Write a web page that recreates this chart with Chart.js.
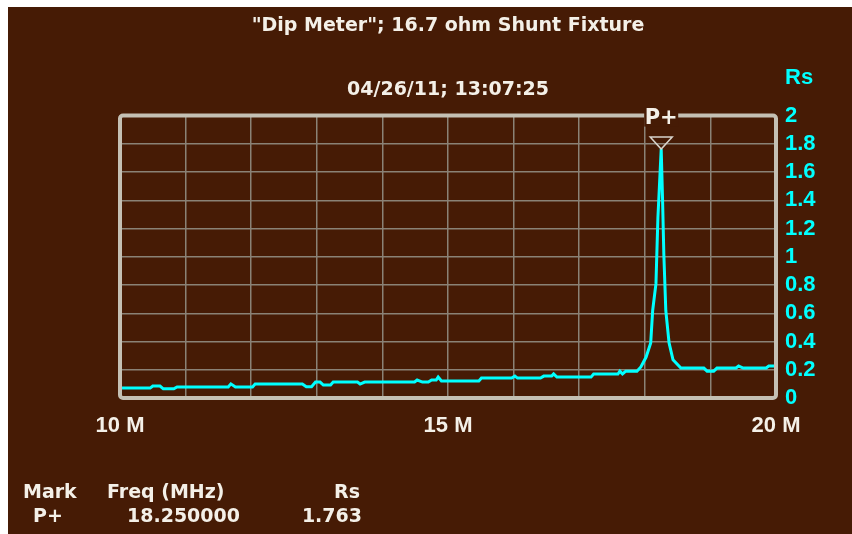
<!DOCTYPE html>
<html>
<head>
<meta charset="utf-8">
<script src="https://cdn.jsdelivr.net/npm/chart.js@4/dist/chart.umd.min.js"></script>
<style>
  html, body { margin: 0; padding: 0; background: #fff; }
  #wrap { position: absolute; left: 8px; top: 7px; width: 844px; height: 527px; }
</style>
</head>
<body>
<div id="wrap"><canvas id="chart" width="844" height="527"></canvas></div>
<script>
// Sweep data
const freqMHz = [
  10.00, 10.46, 10.50, 10.61, 10.66, 10.82, 10.87, 11.65, 11.69, 11.76,
  12.02, 12.06, 12.78, 12.84, 12.92, 12.98, 13.05, 13.10, 13.21, 13.25,
  13.62, 13.66, 13.73, 14.49, 14.53, 14.61, 14.70, 14.75, 14.82, 14.85,
  14.90, 15.47, 15.51, 15.97, 16.02, 16.06, 16.41, 16.46, 16.58, 16.61,
  16.66, 17.18, 17.22, 17.59, 17.62, 17.66, 17.71, 17.88, 17.94, 18.02,
  18.09, 18.12, 18.17, 18.20, 18.25, 18.27, 18.29, 18.32, 18.37, 18.43,
  18.55, 18.90, 18.95, 19.05, 19.10, 19.39, 19.43, 19.50, 19.85, 19.89,
  20.00
];
const rsValues = [
  0.070, 0.070, 0.085, 0.085, 0.065, 0.065, 0.078, 0.078, 0.100, 0.078,
  0.078, 0.099, 0.099, 0.080, 0.080, 0.113, 0.113, 0.092, 0.092, 0.113,
  0.113, 0.099, 0.113, 0.113, 0.127, 0.113, 0.113, 0.127, 0.127, 0.148,
  0.120, 0.120, 0.141, 0.141, 0.155, 0.141, 0.141, 0.155, 0.155, 0.170,
  0.148, 0.148, 0.170, 0.170, 0.190, 0.170, 0.190, 0.190, 0.220, 0.290,
  0.390, 0.620, 0.810, 1.280, 1.763, 1.420, 1.020, 0.620, 0.390, 0.270,
  0.212, 0.212, 0.190, 0.190, 0.212, 0.212, 0.226, 0.212, 0.212, 0.226,
  0.226
];
const xTickLabels = { 10: '10 M', 15: '15 M', 20: '20 M' };

const markerLabel = 'P+';
const markerFreq = 18.25;
const markerRs = 1.763;

const titleText = '"Dip Meter"; 16.7 ohm Shunt Fixture';
const subtitleText = '04/26/11; 13:07:25';

const BG = '#461b05';
const FRAME = '#c4c0b4';
const GRID = '#8a8276';
const TRACE = '#00ffff';
const TEXT = '#f4f0e8';
const wideFont = '"DejaVu Sans", sans-serif';
const tickFont = '"Liberation Sans", Arial, sans-serif';

const points = freqMHz.map((f, i) => ({ x: f, y: rsValues[i] }));

// background, frame, marker, footer table
const screenPlugin = {
  id: 'screen',
  beforeDraw(chart) {
    const ctx = chart.ctx;
    ctx.save();
    ctx.fillStyle = BG;
    ctx.fillRect(0, 0, chart.width, chart.height);
    ctx.restore();
  },
  afterDatasetsDraw(chart) {
    const ctx = chart.ctx;
    const a = chart.chartArea;
    const xs = chart.scales.x, ys = chart.scales.y;
    ctx.save();
    // frame
    ctx.strokeStyle = FRAME;
    ctx.lineWidth = 4;
    ctx.beginPath();
    ctx.roundRect(a.left, a.top, a.right - a.left, a.bottom - a.top, 3);
    ctx.stroke();

    // marker
    const mx = xs.getPixelForValue(markerFreq);
    const my = ys.getPixelForValue(markerRs);
    ctx.fillStyle = BG;
    ctx.fillRect(mx - 17, a.top - 5, 34, 16);
    ctx.fillStyle = TEXT;
    ctx.font = 'bold 21px ' + wideFont;
    ctx.textAlign = 'center';
    ctx.textBaseline = 'middle';
    ctx.fillText(markerLabel, mx, a.top + 3);
    ctx.strokeStyle = '#d8d4cc';
    ctx.lineWidth = 1.5;
    ctx.beginPath();
    ctx.moveTo(mx - 11, my - 12);
    ctx.lineTo(mx + 11, my - 12);
    ctx.lineTo(mx, my);
    ctx.closePath();
    ctx.stroke();

    // axis unit
    ctx.fillStyle = TRACE;
    ctx.font = 'bold 22px ' + tickFont;
    ctx.textAlign = 'left';
    ctx.fillText('Rs', a.right + 9, 71);

    // footer table
    ctx.fillStyle = TEXT;
    ctx.font = 'bold 19px ' + wideFont;
    ctx.textAlign = 'left';
    ctx.fillText('Mark', 15, 486);
    ctx.fillText('Freq (MHz)', 99, 486);
    ctx.textAlign = 'right';
    ctx.fillText('Rs', 352, 486);
    ctx.textAlign = 'center';
    ctx.fillText(markerLabel, 40, 510);
    ctx.textAlign = 'right';
    ctx.fillText(markerFreq.toFixed(6), 232, 510);
    ctx.fillText(markerRs.toFixed(3), 354, 510);
    ctx.restore();
  }
};

new Chart(document.getElementById('chart'), {
  type: 'line',
  data: {
    datasets: [{
      data: points,
      borderColor: TRACE,
      borderWidth: 3,
      pointRadius: 0,
      tension: 0,
      fill: false
    }]
  },
  options: {
    responsive: false,
    animation: false,
    layout: { padding: { left: 112, right: 0, top: 0, bottom: 0 } },
    plugins: {
      legend: { display: false },
      tooltip: { enabled: false },
      title: {
        display: true,
        text: titleText,
        fullSize: false,
        color: TEXT,
        font: { family: wideFont, size: 19, weight: 'bold' },
        padding: { top: 8, bottom: 0 }
      },
      subtitle: {
        display: true,
        text: subtitleText,
        fullSize: false,
        color: TEXT,
        font: { family: wideFont, size: 19, weight: 'bold' },
        padding: { top: 41, bottom: 14 }
      }
    },
    scales: {
      x: {
        type: 'linear',
        min: 10,
        max: 20,
        afterFit(scale) { scale.height = 136; },
        border: { display: false },
        grid: { color: GRID, lineWidth: 1.5, drawTicks: false },
        ticks: {
          stepSize: 1,
          autoSkip: false,
          maxRotation: 0,
          padding: 15,
          color: TEXT,
          font: { family: tickFont, size: 22, weight: 'bold' },
          callback: v => xTickLabels[v] || ''
        }
      },
      y: {
        position: 'right',
        min: 0,
        max: 2,
        afterFit(scale) { scale.width = 76; },
        border: { display: false },
        grid: { color: GRID, lineWidth: 1.5, drawTicks: false },
        ticks: {
          stepSize: 0.2,
          autoSkip: false,
          padding: 9,
          color: TRACE,
          font: { family: tickFont, size: 22, weight: 'bold' },
          callback: v => String(+v.toFixed(1))
        }
      }
    }
  },
  plugins: [screenPlugin]
});
</script>
</body>
</html>
